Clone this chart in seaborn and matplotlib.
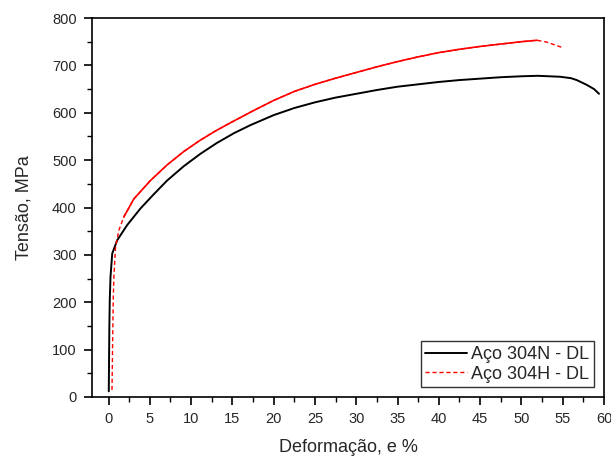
import numpy as np
import pandas as pd
import matplotlib
matplotlib.use("Agg")
import matplotlib.pyplot as plt
import seaborn as sns
from matplotlib.ticker import MultipleLocator

# curvas tensão x deformação
def_304n = [0.03, 0.10, 0.15, 0.24, 0.45, 1.05, 2.26, 3.87, 5.48, 7.1, 9.1, 11.1, 13.1, 15.2,
            17.2, 20.0, 22.5, 25.0, 27.5, 30.0, 32.5, 35.0, 37.5, 40.0, 42.5, 45.0, 47.5,
            50.0, 52.0, 54.7, 56.0, 56.7, 57.9, 58.8, 59.4]
ten_304n = [12, 150, 205, 254, 303, 331, 363, 398, 428, 457, 487, 513, 536, 557,
            574, 595, 610, 622, 632, 640, 648, 655, 660, 665, 669, 672, 675,
            677, 678, 676, 673, 669, 659, 650, 640]

def_304h = [0.42, 0.50, 0.57, 0.65, 0.85, 1.25, 1.85, 3.06, 5.08, 7.1, 9.1, 11.1, 13.0, 15.0,
            17.5, 20.0, 22.5, 25.0, 27.5, 30.0, 32.5, 35.0, 37.5, 40.0, 42.5, 45.0, 47.5,
            50.0, 51.9, 53.1, 54.9]
ten_304h = [15, 120, 205, 254, 317, 352, 380, 418, 457, 490, 518, 542, 562, 581,
            604, 626, 645, 660, 673, 685, 697, 708, 718, 727, 734, 740, 745,
            750, 753, 749, 738]

sns.set_theme(style="ticks")
plt.rcParams['font.family'] = ['Liberation Sans', 'DejaVu Sans']

fig = plt.figure(figsize=(6.11, 4.57), dpi=100)
ax = fig.add_axes([0.1506, 0.1313, 0.8379, 0.8293])

dn = pd.DataFrame({"def": def_304n, "ten": ten_304n})
dh = pd.DataFrame({"def": def_304h, "ten": ten_304h})

sns.lineplot(data=dn, x="def", y="ten", ax=ax, color="black", lw=1.4,
             sort=False, estimator=None, label="Aço 304N - DL")
sns.lineplot(data=dh, x="def", y="ten", ax=ax, color="red", lw=1.0,
             sort=False, estimator=None, label="Aço 304H - DL", linestyle=(0, (3, 2)))
# trecho denso da curva 304H aparece contínuo no original
meio = dh.iloc[6:29]
ax.plot(meio["def"], meio["ten"], color="red", lw=1.2)

ax.set_xlim(-2, 60)
ax.set_ylim(0, 800)
ax.set_xticks(np.arange(0, 61, 5))
ax.xaxis.set_minor_locator(MultipleLocator(2.5))
ax.yaxis.set_major_locator(MultipleLocator(100))
ax.yaxis.set_minor_locator(MultipleLocator(50))
ax.tick_params(which="major", direction="out", length=6, width=1.2, labelsize=10.5,
               color="black", pad=5)
ax.tick_params(which="minor", direction="out", length=3.5, width=1.0, color="black")
for s in ax.spines.values():
    s.set_color("black")
    s.set_linewidth(1.2)

ax.set_xlabel("Deformação, e %", fontsize=13, labelpad=9)
ax.set_ylabel("Tensão, MPa", fontsize=13, labelpad=14)

leg = ax.legend(loc="lower right", fontsize=13, frameon=True, fancybox=False,
                edgecolor="black", borderpad=0.25, handlelength=2.3, handletextpad=0.25,
                labelspacing=0.15, borderaxespad=0.55)
leg.get_frame().set_linewidth(1.0)

fig.savefig("out.png", dpi=100)
